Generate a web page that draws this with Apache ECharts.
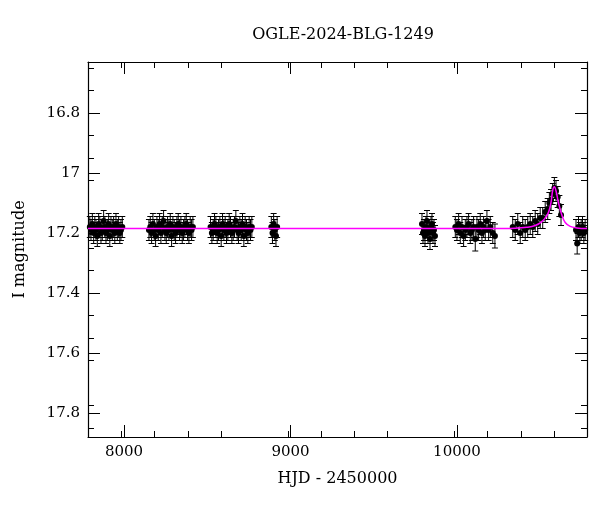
<!DOCTYPE html>
<html><head><meta charset="utf-8">
<script src="https://cdn.jsdelivr.net/npm/echarts@6/dist/echarts.min.js"></script>
<style>html,body{margin:0;padding:0;background:#fff}#c{width:600px;height:512px}</style>
</head><body><div id="c"></div>
<script>
const hjd = [
7795,7802,7810,7818,7825,7832,7840,7848,7855,7862,7870,7878,7885,7892,7900,7908,7915,7922,7930,7938,7945,7952,7960,7968,7975,7982,7990,
8150,8158,8166,8174,8182,8190,8198,8206,8214,8222,8230,8238,8246,8254,8262,8270,8278,8286,8294,8302,8310,8318,8326,8334,8342,8350,8358,8366,8374,8382,8390,8398,8406,8414,
8520,8528,8536,8544,8552,8560,8568,8576,8584,8592,8600,8608,8616,8624,8632,8640,8648,8656,8664,8672,8680,8688,8696,8704,8712,8720,8728,8736,8744,8752,8760,8768,
8885,8892,8899,8906,8913,8920,
9790,9796,9802,9808,9814,9820,9826,9832,9838,9844,9850,9856,9862,9868,
9990,10000,10010,10020,10030,10040,10050,10060,10070,10080,10090,10100,10110,10120,10130,10140,10150,10160,10170,10180,10190,10200,10215,10228,
10335,10350,10365,10380,10395,10410,10425,10440,10455,10470,10485,10500,10515,10530,10545,10555,10565,10575,10585,10595,10605,10615,10625,
10715,10722,10730,10738,10746,10754,10762,10770
];
const mag = [
17.18,17.19,17.17,17.20,17.18,17.19,17.21,17.17,17.18,17.20,17.19,17.16,17.18,17.20,17.19,17.17,17.21,17.18,17.19,17.18,17.20,17.17,17.19,17.18,17.20,17.19,17.18,
17.19,17.18,17.20,17.17,17.19,17.21,17.18,17.19,17.17,17.20,17.18,17.16,17.19,17.20,17.18,17.19,17.17,17.21,17.18,17.19,17.20,17.18,17.17,17.19,17.18,17.20,17.19,17.18,17.17,17.19,17.20,17.18,17.19,17.18,
17.18,17.20,17.19,17.17,17.18,17.20,17.19,17.18,17.21,17.17,17.19,17.18,17.20,17.19,17.17,17.18,17.20,17.19,17.18,17.16,17.19,17.20,17.18,17.19,17.17,17.21,17.18,17.19,17.20,17.18,17.19,17.18,
17.18,17.20,17.17,17.19,17.21,17.18,
17.17,17.20,17.19,17.21,17.18,17.16,17.20,17.19,17.22,17.18,17.17,17.20,17.19,17.21,
17.18,17.19,17.17,17.20,17.18,17.21,17.19,17.18,17.17,17.20,17.19,17.18,17.22,17.18,17.19,17.17,17.20,17.18,17.19,17.16,17.19,17.18,17.20,17.21,
17.18,17.19,17.17,17.20,17.18,17.19,17.18,17.17,17.18,17.16,17.17,17.15,17.15,17.13,17.12,17.10,17.09,17.07,17.05,17.06,17.08,17.11,17.14,
17.19,17.235,17.18,17.20,17.19,17.18,17.20,17.19
];
const err = [
0.035,0.035,0.035,0.035,0.035,0.035,0.035,0.035,0.035,0.035,0.035,0.035,0.035,0.035,0.035,0.035,0.035,0.035,0.035,0.035,0.035,0.035,0.035,0.035,0.035,0.035,0.035,
0.035,0.035,0.035,0.035,0.035,0.035,0.035,0.035,0.035,0.035,0.035,0.035,0.035,0.035,0.035,0.035,0.035,0.035,0.035,0.035,0.035,0.035,0.035,0.035,0.035,0.035,0.035,0.035,0.035,0.035,0.035,0.035,0.035,0.035,
0.035,0.035,0.035,0.035,0.035,0.035,0.035,0.035,0.035,0.035,0.035,0.035,0.035,0.035,0.035,0.035,0.035,0.035,0.035,0.035,0.035,0.035,0.035,0.035,0.035,0.035,0.035,0.035,0.035,0.035,0.035,0.035,
0.035,0.035,0.035,0.035,0.035,0.035,
0.035,0.035,0.035,0.035,0.035,0.035,0.035,0.035,0.035,0.035,0.035,0.035,0.035,0.035,
0.035,0.035,0.035,0.035,0.035,0.035,0.035,0.035,0.035,0.035,0.035,0.035,0.04,0.035,0.035,0.035,0.035,0.035,0.035,0.035,0.035,0.035,0.035,0.04,
0.035,0.035,0.035,0.035,0.035,0.035,0.035,0.035,0.035,0.035,0.035,0.035,0.035,0.035,0.035,0.035,0.035,0.035,0.035,0.035,0.035,0.035,0.035,
0.035,0.035,0.035,0.035,0.035,0.035,0.035,0.035
];
const modelT = [7784,8500,9500,10200,10350,10420,10470,10510,10540,10555,10565,10575,10585,10595,10610,10630,10650,10680,10720,10781];
const modelM = [17.185,17.185,17.185,17.185,17.184,17.181,17.175,17.162,17.142,17.122,17.098,17.058,17.046,17.06,17.1,17.14,17.165,17.178,17.183,17.185];
const xTicks = [8000,9000,10000];
const yTicks = [16.8,17,17.2,17.4,17.6,17.8];

const pts = hjd.map((t,i)=>[t,mag[i],err[i]]);
const font = 'DejaVu Serif';
const chart = echarts.init(document.getElementById('c'));
const axLine = {show:true,lineStyle:{color:'#000',width:1.2}};
chart.setOption({
  animation:false,
  title:{text:'OGLE-2024-BLG-1249',left:338,top:22,textAlign:'center',textStyle:{fontFamily:font,fontSize:16,fontWeight:'normal',color:'#000'}},
  grid:{left:88,right:13,top:62,bottom:75},
  xAxis:[
    {type:'value',min:7784,max:10781,interval:1000,name:'HJD - 2450000',nameLocation:'middle',nameGap:34,
     nameTextStyle:{fontFamily:font,fontSize:16,color:'#000'},
     axisLine:axLine,axisTick:{inside:true,length:12,lineStyle:{color:'#000'},customValues:xTicks},
     minorTick:{show:true,splitNumber:5,length:6,lineStyle:{color:'#000'}},
     axisLabel:{fontFamily:font,fontSize:15,color:'#000',customValues:xTicks,formatter:v=>String(v)},splitLine:{show:false}},
    {type:'value',position:'top',min:7784,max:10781,interval:1000,
     axisLine:axLine,axisTick:{inside:true,length:12,lineStyle:{color:'#000'},customValues:xTicks},
     minorTick:{show:true,splitNumber:5,length:6,lineStyle:{color:'#000'}},axisLabel:{show:false},splitLine:{show:false}}
  ],
  yAxis:[
    {type:'value',inverse:true,min:16.63,max:17.88,name:'I magnitude',nameLocation:'middle',nameGap:60,
     nameTextStyle:{fontFamily:font,fontSize:16,color:'#000'},
     axisLine:axLine,axisTick:{inside:true,length:12,lineStyle:{color:'#000'},customValues:yTicks},
     minorTick:{show:true,splitNumber:4,length:6,lineStyle:{color:'#000'}},
     axisLabel:{fontFamily:font,fontSize:15,color:'#000',customValues:yTicks,formatter:v=>String(+v.toFixed(1))},splitLine:{show:false}},
    {type:'value',position:'right',inverse:true,min:16.63,max:17.88,
     axisLine:axLine,axisTick:{inside:true,length:12,lineStyle:{color:'#000'},customValues:yTicks},
     minorTick:{show:true,splitNumber:4,length:6,lineStyle:{color:'#000'}},axisLabel:{show:false},splitLine:{show:false}}
  ],
  series:[
    {type:'custom',data:pts,renderItem:(params,api)=>{
      const t=api.value(0),m=api.value(1),e=api.value(2);
      const c=api.coord([t,m]),lo=api.coord([t,m-e]),hi=api.coord([t,m+e]);
      const s={stroke:'#000',lineWidth:1};
      return {type:'group',children:[
        {type:'line',shape:{x1:c[0],y1:lo[1],x2:c[0],y2:hi[1]},style:s},
        {type:'line',shape:{x1:c[0]-3,y1:lo[1],x2:c[0]+3,y2:lo[1]},style:s},
        {type:'line',shape:{x1:c[0]-3,y1:hi[1],x2:c[0]+3,y2:hi[1]},style:s},
        {type:'circle',shape:{cx:c[0],cy:c[1],r:3},style:{fill:'#000'}}
      ]};
    },z:2},
    {type:'line',data:modelT.map((t,i)=>[t,modelM[i]]),smooth:0.4,showSymbol:false,
     lineStyle:{color:'#ff00ff',width:1.5},z:3}
  ]
});
</script></body></html>
